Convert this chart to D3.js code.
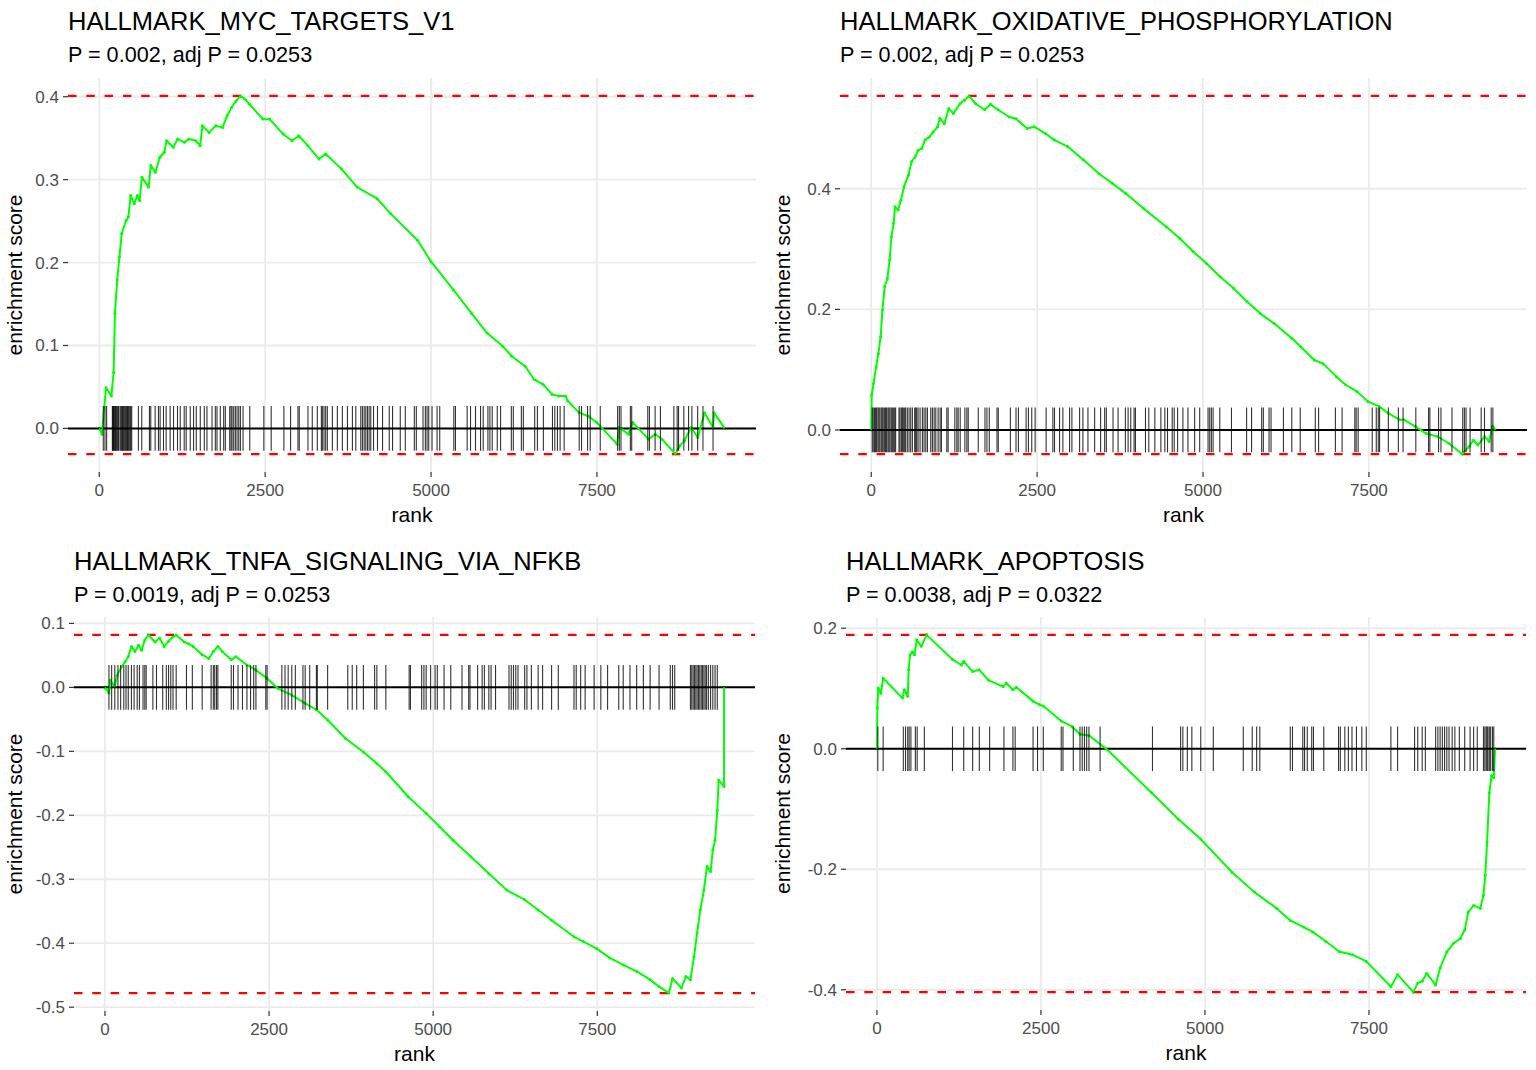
<!DOCTYPE html>
<html><head><meta charset="utf-8">
<script src="https://cdn.jsdelivr.net/npm/d3@7"></script>
<style>body{margin:0;background:#fff;} svg{display:block;font-family:"Liberation Sans",Arial,Helvetica,sans-serif;}</style>
</head><body><svg id="c" width="1536" height="1070"></svg>
<script>
// ---------------- DATA ----------------
const titles = ["HALLMARK_MYC_TARGETS_V1","HALLMARK_OXIDATIVE_PHOSPHORYLATION","HALLMARK_TNFA_SIGNALING_VIA_NFKB","HALLMARK_APOPTOSIS"];
const subtitles = ["P = 0.002, adj P = 0.0253","P = 0.002, adj P = 0.0253","P = 0.0019, adj P = 0.0253","P = 0.0038, adj P = 0.0322"];
const xTicks = [0,2500,5000,7500];
const yTicks1 = [0,0.1,0.2,0.3,0.4];
const yTicks2 = [0,0.2,0.4];
const yTicks3 = [0.1,0,-0.1,-0.2,-0.3,-0.4,-0.5];
const yTicks4 = [0.2,0,-0.2,-0.4];

const rank1 = [0,40,101,182,216,236,270,304,338,405,439,473,527,574,608,642,743,777,845,912,980,1014,1115,1182,1284,1351,1453,1520,1554,1655,1757,1858,1926,1993,2061,2128,2196,2264,2466,2568,2770,2905,3007,3142,3311,3412,3649,3885,4189,4392,4797,5000,5338,5608,5845,6081,6216,6419,6554,6689,6824,6926,7027,7061,7230,7365,7500,7804,7838,7973,8041,8277,8379,8480,8683,8750,8818,8919,9020,9122,9250,9265,9426];
const es1 = [0,-0.007,0.049,0.039,0.067,0.139,0.179,0.207,0.235,0.251,0.255,0.281,0.271,0.281,0.275,0.303,0.291,0.317,0.309,0.327,0.333,0.347,0.339,0.349,0.345,0.349,0.347,0.341,0.365,0.357,0.365,0.363,0.377,0.387,0.395,0.401,0.397,0.391,0.373,0.373,0.355,0.347,0.353,0.341,0.325,0.331,0.313,0.291,0.277,0.259,0.227,0.201,0.167,0.139,0.115,0.099,0.087,0.075,0.059,0.053,0.041,0.039,0.039,0.033,0.019,0.015,0.007,-0.019,0.001,-0.007,0.007,-0.013,-0.007,-0.013,-0.031,-0.021,-0.015,0.001,-0.011,0.019,0.001,0.019,0];
const hits1 = [60,86,111,197,205,212,220,227,242,250,262,277,290,312,325,338,350,363,375,388,400,413,425,438,450,464,475,489,590,640,756,776,842,892,917,968,1008,1068,1119,1179,1220,1280,1310,1371,1421,1462,1522,1583,1623,1699,1749,1774,1824,1875,1900,1966,1986,2001,2026,2051,2076,2102,2127,2167,2268,2480,2591,2782,2883,2994,3014,3145,3210,3286,3347,3362,3387,3412,3437,3513,3588,3664,3740,3815,3866,3941,3966,3992,4017,4042,4067,4092,4133,4193,4269,4370,4420,4536,4612,4748,4778,4879,4914,4940,4965,5015,5091,5131,5343,5368,5544,5595,5670,5746,5786,5857,5887,5922,5998,6048,6210,6240,6361,6391,6562,6603,6693,6830,6865,6905,6945,7006,7233,7268,7359,7399,7550,7812,7838,7863,8004,8024,8266,8291,8377,8457,8659,8709,8730,8810,8881,8931,9018,9098,9250];

const rank2 = [0,7,34,74,108,142,169,203,243,277,304,338,358,405,446,493,561,608,662,709,763,811,878,932,1000,1034,1101,1169,1237,1338,1405,1473,1574,1710,1797,1912,2081,2182,2351,2453,2622,2757,2960,3196,3433,3635,3838,4108,4446,4649,4851,5054,5257,5460,5662,5865,6068,6338,6473,6676,6811,7014,7149,7318,7487,7655,7791,7960,8027,8196,8365,8534,8703,8906,9007,9074,9142,9244,9311,9365,9412];
const es2 = [0,0.058,0.077,0.105,0.127,0.155,0.199,0.238,0.251,0.282,0.320,0.343,0.370,0.365,0.381,0.403,0.423,0.445,0.453,0.464,0.467,0.481,0.486,0.494,0.503,0.517,0.508,0.533,0.525,0.541,0.547,0.554,0.541,0.531,0.540,0.531,0.519,0.516,0.500,0.503,0.492,0.481,0.470,0.448,0.425,0.409,0.392,0.367,0.337,0.318,0.296,0.276,0.254,0.235,0.213,0.193,0.177,0.152,0.138,0.116,0.110,0.088,0.075,0.064,0.047,0.039,0.028,0.017,0.017,0.006,-0.006,-0.011,-0.022,-0.040,-0.028,-0.017,-0.025,-0.011,-0.019,0.006,0];
const hits2 = [15,30,50,66,81,101,116,131,151,166,181,202,217,232,252,267,282,302,318,333,353,368,418,433,454,469,484,504,519,544,570,595,620,655,670,685,706,736,771,796,822,847,897,922,948,973,1008,1038,1058,1139,1159,1260,1290,1310,1341,1411,1441,1462,1613,1714,1744,1779,1895,1915,2097,2182,2218,2334,2369,2419,2470,2636,2737,2762,2838,2888,2989,3024,3140,3190,3266,3367,3457,3518,3543,3644,3720,3830,3871,3911,3961,3982,4133,4183,4274,4365,4425,4465,4536,4566,4617,4697,4773,4874,4950,5076,5101,5126,5152,5253,5429,5657,5732,5884,5909,5995,6025,6212,6338,6465,6692,6742,6995,7096,7288,7308,7338,7550,7611,7641,7661,7793,7944,8015,8207,8399,8419,8550,8586,8752,8914,8939,8964,9025,9192,9242,9343,9368];

const rank3 = [0,14,61,82,150,184,252,307,355,403,457,512,559,607,662,764,833,901,969,1037,1085,1208,1276,1344,1481,1583,1651,1720,1788,1924,1993,2163,2300,2470,2641,2846,3050,3221,3392,3665,3937,4142,4279,4620,4893,5098,5302,5575,5848,6121,6394,6599,6804,7145,7281,7486,7690,7895,8100,8305,8441,8591,8646,8782,8850,8919,8974,9021,9069,9124,9171,9226,9260,9294,9328,9349,9431,9431];
const es3 = [0,-0.002,-0.009,0.011,0.001,0.019,0.032,0.040,0.048,0.064,0.056,0.066,0.058,0.074,0.082,0.071,0.077,0.064,0.072,0.079,0.082,0.071,0.068,0.064,0.051,0.045,0.056,0.064,0.056,0.043,0.048,0.035,0.027,0.014,-0.002,-0.012,-0.025,-0.035,-0.051,-0.080,-0.101,-0.119,-0.132,-0.171,-0.197,-0.218,-0.239,-0.265,-0.291,-0.317,-0.332,-0.348,-0.364,-0.390,-0.397,-0.408,-0.423,-0.434,-0.444,-0.457,-0.468,-0.478,-0.455,-0.470,-0.452,-0.457,-0.421,-0.384,-0.348,-0.317,-0.280,-0.288,-0.254,-0.239,-0.192,-0.145,-0.155,0];
const hits3 = [61,102,150,198,239,287,321,355,403,444,491,525,580,607,628,730,785,880,935,969,1003,1037,1085,1242,1331,1481,1617,1651,1672,1699,1720,1924,1958,2027,2095,2163,2218,2266,2300,2450,2470,2695,2743,2791,2846,2900,3016,3050,3119,3221,3235,3392,3699,3767,3835,3937,4108,4142,4279,4634,4654,4825,4859,4893,4961,5029,5063,5166,5268,5439,5541,5561,5677,5746,5780,5848,5882,5950,6155,6189,6223,6258,6292,6394,6428,6496,6599,6667,6804,6906,7145,7179,7247,7315,7452,7554,7657,7827,7895,7998,8100,8202,8305,8441,8612,8646,8680,8919,8939,8960,8980,9001,9021,9042,9062,9083,9103,9124,9144,9165,9192,9226,9260,9294,9328];

const rank4 = [0,7,20,61,95,389,416,470,484,505,539,573,607,675,757,1152,1289,1323,1459,1561,1698,1923,1970,2073,2127,2380,2482,2536,2809,2973,3095,3232,3504,4186,4595,4936,5413,5754,6095,6300,6504,6641,6845,7050,7254,7459,7834,7936,8175,8243,8311,8379,8515,8584,8686,8788,8890,8959,9013,9095,9197,9245,9272,9300,9334,9368,9402,9422];
const es4 = [0,0.068,0.101,0.092,0.117,0.084,0.098,0.087,0.131,0.156,0.161,0.156,0.181,0.170,0.189,0.148,0.139,0.145,0.128,0.131,0.114,0.103,0.109,0.098,0.102,0.079,0.073,0.071,0.046,0.037,0.024,0.022,-0.001,-0.073,-0.117,-0.150,-0.205,-0.238,-0.265,-0.285,-0.296,-0.304,-0.320,-0.337,-0.342,-0.353,-0.395,-0.375,-0.404,-0.389,-0.386,-0.373,-0.392,-0.364,-0.337,-0.323,-0.315,-0.301,-0.271,-0.260,-0.265,-0.243,-0.210,-0.155,-0.073,-0.045,-0.048,0];
const hits4 = [14,95,402,436,470,491,518,586,614,723,1152,1323,1459,1561,1718,1936,2073,2107,2380,2448,2536,2809,2836,2993,3095,3129,3163,3197,3232,3402,4200,4629,4663,4731,4800,4936,5127,5584,5720,5788,5836,6300,6334,6491,6518,6559,6627,6654,6811,7036,7063,7132,7186,7241,7309,7391,7459,7834,7936,8195,8243,8311,8359,8516,8550,8584,8618,8652,8686,8720,8768,8809,8877,8959,9041,9095,9150,9245,9266,9286,9300,9313,9334,9354,9382,9402];

// ---------------- LAYOUT ----------------
const panels = [
  {title:titles[0], sub:subtitles[0], rank:rank1, es:es1, hits:hits1, yt:yTicks1, cx:0,   cy:0,   l:68,  r:756,  t:78,  b:472},
  {title:titles[1], sub:subtitles[1], rank:rank2, es:es2, hits:hits2, yt:yTicks2, cx:768, cy:0,   l:840, r:1527, t:78,  b:472},
  {title:titles[2], sub:subtitles[2], rank:rank3, es:es3, hits:hits3, yt:yTicks3, cx:0,   cy:540, l:74,  r:755,  t:617, b:1011},
  {title:titles[3], sub:subtitles[3], rank:rank4, es:es4, hits:hits4, yt:yTicks4, cx:768, cy:540, l:846, r:1526, t:617, b:1010}
];

const svg = d3.select("#c");
const fmtY = v => (v < 0 ? "-" : "") + Math.abs(v).toFixed(1);

panels.forEach(p => {
  const pts = p.rank.map((x,i)=>({x, y:p.es[i]}));
  const N = d3.max(p.rank);
  const mx = d3.max(p.es), mn = d3.min(p.es);
  const R = mx - mn;
  const x = d3.scaleLinear().domain([-0.05*N, N*1.05]).range([p.l, p.r]);
  const y = d3.scaleLinear().domain([mn - 0.05*R, mx + 0.05*R]).range([p.b, p.t]);
  const g = svg.append("g");

  // grid
  g.selectAll(".gx").data(xTicks).enter().append("line")
    .attr("x1",d=>x(d)).attr("x2",d=>x(d)).attr("y1",p.t).attr("y2",p.b)
    .attr("stroke","#ebebeb").attr("stroke-width",1.8);
  g.selectAll(".gy").data(p.yt).enter().append("line")
    .attr("x1",p.l).attr("x2",p.r).attr("y1",d=>y(d)).attr("y2",d=>y(d))
    .attr("stroke","#ebebeb").attr("stroke-width",1.8);

  // green points
  g.selectAll(".pt").data(pts).enter().append("circle")
    .attr("cx",d=>x(d.x)).attr("cy",d=>y(d.y)).attr("r",1.5).attr("fill","#00ff00");

  // dashed lines
  [mx, mn].forEach(v => {
    g.append("line").attr("x1",p.l).attr("x2",p.r).attr("y1",y(v)).attr("y2",y(v))
      .attr("stroke","#ff0000").attr("stroke-width",2.1).attr("stroke-dasharray","8.5,9.8");
  });
  // zero line
  g.append("line").attr("x1",p.l).attr("x2",p.r).attr("y1",y(0)).attr("y2",y(0))
    .attr("stroke","#000").attr("stroke-width",2);

  // curve
  g.append("path").datum(pts)
    .attr("d", d3.line().x(d=>x(d.x)).y(d=>y(d.y)))
    .attr("fill","none").attr("stroke","#00ff00").attr("stroke-width",2).attr("stroke-linejoin","round");

  // hit ticks
  const half = R/16;
  g.selectAll(".hit").data(p.hits).enter().append("line")
    .attr("x1",d=>x(d)).attr("x2",d=>x(d)).attr("y1",y(-half)).attr("y2",y(half))
    .attr("stroke","#000").attr("stroke-width",1.1).attr("stroke-opacity",0.8);

  // axes ticks & labels
  g.selectAll(".ytk").data(p.yt).enter().append("line")
    .attr("x1",p.l-5).attr("x2",p.l).attr("y1",d=>y(d)).attr("y2",d=>y(d))
    .attr("stroke","#333").attr("stroke-width",1.2);
  g.selectAll(".ytl").data(p.yt).enter().append("text")
    .attr("x",p.l-9).attr("y",d=>y(d)).attr("dy","0.35em").attr("text-anchor","end")
    .attr("font-size",17).attr("fill","#4d4d4d").text(fmtY);
  g.selectAll(".xtk").data(xTicks).enter().append("line")
    .attr("x1",d=>x(d)).attr("x2",d=>x(d)).attr("y1",p.b).attr("y2",p.b+5)
    .attr("stroke","#333").attr("stroke-width",1.2);
  g.selectAll(".xtl").data(xTicks).enter().append("text")
    .attr("x",d=>x(d)).attr("y",p.b+18).attr("dy","0.35em").attr("text-anchor","middle")
    .attr("font-size",17).attr("fill","#4d4d4d").text(d=>d);

  // titles
  g.append("text").attr("x",p.l).attr("y",p.cy+30).attr("font-size",25.5).attr("fill","#000").text(p.title);
  g.append("text").attr("x",p.l).attr("y",p.cy+62).attr("font-size",21.6).attr("fill","#000").text(p.sub);
  g.append("text").attr("x",(p.l+p.r)/2).attr("y",p.b+43).attr("dy","0.35em").attr("text-anchor","middle")
    .attr("font-size",21).attr("fill","#000").text("rank");
  g.append("text").attr("transform",`translate(${p.cx+15},${(p.t+p.b)/2}) rotate(-90)`)
    .attr("dy","0.35em").attr("text-anchor","middle").attr("font-size",21).attr("fill","#000").text("enrichment score");
});
</script></body></html>
